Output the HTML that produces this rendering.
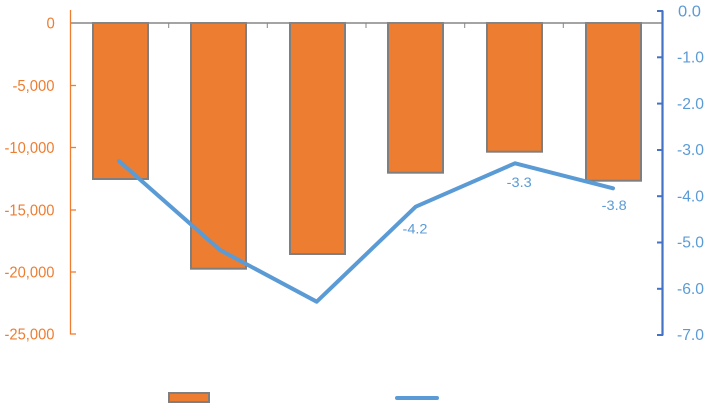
<!DOCTYPE html>
<html><head><meta charset="utf-8"><style>
html,body{margin:0;padding:0;background:#fff;}
svg{display:block;font-family:"Liberation Sans",sans-serif;}
</style></head><body>
<svg width="709" height="414" viewBox="0 0 709 414" xmlns="http://www.w3.org/2000/svg">
<rect width="709" height="414" fill="#fff"/>
<!-- bars -->
<g fill="#ED7D31" stroke="#7F7F7F" stroke-width="2">
<rect x="93" y="23" width="55" height="156"/>
<rect x="191" y="23" width="55" height="245.7"/>
<rect x="290" y="23" width="55" height="231"/>
<rect x="388" y="23" width="55" height="149.7"/>
<rect x="487" y="23" width="55" height="128.7"/>
<rect x="586" y="23" width="55" height="157.7"/>
</g>
<!-- category axis -->
<line x1="70" y1="23" x2="662" y2="23" stroke="#868686" stroke-width="1.5"/>
<g stroke="#868686" stroke-width="1">
<line x1="168.7" y1="23" x2="168.7" y2="28"/>
<line x1="267.3" y1="23" x2="267.3" y2="28"/>
<line x1="366" y1="23" x2="366" y2="28"/>
<line x1="464.7" y1="23" x2="464.7" y2="28"/>
<line x1="563.3" y1="23" x2="563.3" y2="28"/>
</g>
<!-- left axis -->
<line x1="70.5" y1="10" x2="70.5" y2="334.5" stroke="#ED7D31" stroke-width="1.3"/>
<g stroke="#ED7D31" stroke-width="1.3">
<line x1="70" y1="85.5" x2="76" y2="85.5"/>
<line x1="70" y1="147.5" x2="76" y2="147.5"/>
<line x1="70" y1="210" x2="76" y2="210"/>
<line x1="70" y1="272" x2="76" y2="272"/>
<line x1="70" y1="334" x2="76" y2="334"/>
</g>
<g fill="#ED7D31" font-size="15.5">
<text x="46.5" y="28.5" textLength="8.3" lengthAdjust="spacingAndGlyphs">0</text>
<text x="12.5" y="91" textLength="42" lengthAdjust="spacingAndGlyphs">-5,000</text>
<text x="4.5" y="153" textLength="50" lengthAdjust="spacingAndGlyphs">-10,000</text>
<text x="4.5" y="215.5" textLength="50" lengthAdjust="spacingAndGlyphs">-15,000</text>
<text x="4.5" y="277.5" textLength="50" lengthAdjust="spacingAndGlyphs">-20,000</text>
<text x="4.5" y="339.5" textLength="50" lengthAdjust="spacingAndGlyphs">-25,000</text>
</g>
<!-- right axis -->
<line x1="662.5" y1="10.5" x2="662.5" y2="335.5" stroke="#4472C4" stroke-width="2.2"/>
<g stroke="#4472C4" stroke-width="2">
<line x1="657" y1="11" x2="663" y2="11"/>
<line x1="657" y1="57.3" x2="663" y2="57.3"/>
<line x1="657" y1="103.6" x2="663" y2="103.6"/>
<line x1="657" y1="150" x2="663" y2="150"/>
<line x1="657" y1="196.2" x2="663" y2="196.2"/>
<line x1="657" y1="242.5" x2="663" y2="242.5"/>
<line x1="657" y1="288.8" x2="663" y2="288.8"/>
<line x1="657" y1="335" x2="663" y2="335"/>
</g>
<g fill="#5B9BD5" font-size="15.5">
<text x="678" y="16.5" textLength="23" lengthAdjust="spacingAndGlyphs">0.0</text>
<text x="677" y="62.5" textLength="27" lengthAdjust="spacingAndGlyphs">-1.0</text>
<text x="677" y="108.8" textLength="27" lengthAdjust="spacingAndGlyphs">-2.0</text>
<text x="677" y="155.2" textLength="27" lengthAdjust="spacingAndGlyphs">-3.0</text>
<text x="677" y="201.4" textLength="27" lengthAdjust="spacingAndGlyphs">-4.0</text>
<text x="677" y="247.7" textLength="27" lengthAdjust="spacingAndGlyphs">-5.0</text>
<text x="677" y="294" textLength="27" lengthAdjust="spacingAndGlyphs">-6.0</text>
<text x="677" y="340.2" textLength="27" lengthAdjust="spacingAndGlyphs">-7.0</text>
</g>
<!-- line series -->
<polyline points="119,161 220,250 316.7,301.7 415.7,206.7 515,163.3 613,188.3" fill="none" stroke="#5B9BD5" stroke-width="4" stroke-linejoin="round" stroke-linecap="round"/>
<g fill="#5B9BD5" font-size="14">
<text x="402.5" y="233.5" textLength="25" lengthAdjust="spacingAndGlyphs">-4.2</text>
<text x="506.7" y="187" textLength="25" lengthAdjust="spacingAndGlyphs">-3.3</text>
<text x="601.7" y="210" textLength="25" lengthAdjust="spacingAndGlyphs">-3.8</text>
</g>
<!-- invisible (white) category labels -->
<g fill="#fff" font-size="13" text-anchor="middle">
<text x="119" y="359">2015</text>
<text x="218" y="359">2016</text>
<text x="317" y="359">2017</text>
<text x="415" y="359">2018</text>
<text x="514" y="359">2019</text>
<text x="613" y="359">2020</text>
</g>
<!-- legend -->
<rect x="169" y="393" width="40" height="9" fill="#ED7D31" stroke="#7F7F7F" stroke-width="2"/>
<text x="215" y="402" fill="#fff" font-size="13">Balance</text>
<line x1="397" y1="398" x2="437" y2="398" stroke="#5B9BD5" stroke-width="4" stroke-linecap="round"/>
<text x="444" y="402" fill="#fff" font-size="13">% of GDP</text>
</svg>
</body></html>
